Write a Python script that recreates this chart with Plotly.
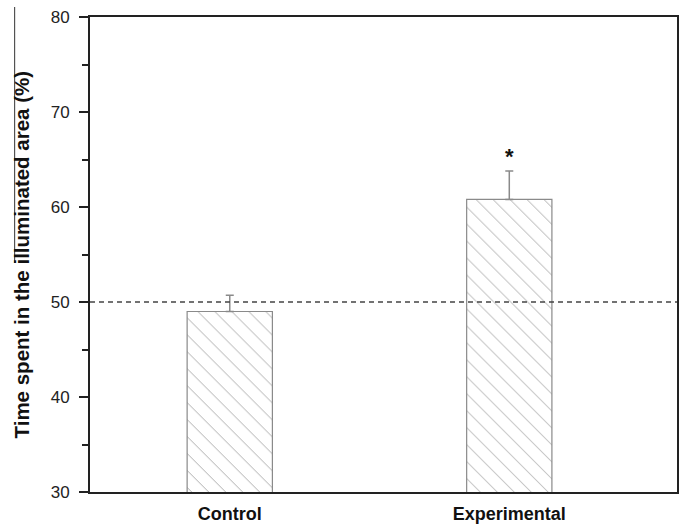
import plotly.graph_objects as go

categories = ["Control", "Experimental"]
means = [49.0, 60.8]
errors_up = [1.7, 3.0]
reference_level = 50
significance = ["", "*"]
sig_y = [None, 65.7]
y_title = "Time spent in the illuminated area (%)"
y_ticks = [30, 40, 50, 60, 70, 80]

FONT = "Liberation Sans, Arial, sans-serif"

fig = go.Figure()
fig.add_trace(go.Bar(
    x=categories, y=means, width=0.305,
    marker=dict(
        color="white",
        line=dict(color="#8a8a8a", width=1.2),
        pattern=dict(shape="\\", size=12, solidity=0.08, fgcolor="#555555", bgcolor="white"),
    ),
    error_y=dict(type="data", symmetric=False, array=errors_up, arrayminus=[0, 0],
                 color="#8a8a8a", thickness=1.5, width=4),
    showlegend=False,
))

fig.add_hline(y=reference_level, line=dict(color="#444444", width=1.5, dash="5px,4px"))

for c, s, yy in zip(categories, significance, sig_y):
    if s:
        fig.add_annotation(x=c, y=yy, text="<b>" + s + "</b>", showarrow=False,
                           font=dict(family=FONT, size=22, color="#111"), yanchor="middle", yshift=-4)

fig.add_annotation(xref="paper", yref="paper", x=(22 - 90) / 586.7, y=0.5,
                   text="<b>" + y_title + "</b>", textangle=-90, showarrow=False,
                   font=dict(family=FONT, size=20.5, color="#111"), xanchor="center", yanchor="middle")

# thin vertical line artifact at the top-left of the original
fig.add_shape(type="line", xref="paper", yref="paper",
              x0=(14.7 - 90) / 586.7, x1=(14.7 - 90) / 586.7,
              y0=(492 - 263) / 475, y1=(492 - 7) / 475,
              line=dict(color="#333", width=1))

fig.update_layout(
    width=681, height=526,
    margin=dict(l=90, r=4, t=17, b=34),
    paper_bgcolor="white", plot_bgcolor="white",
    font=dict(family=FONT, color="#222"),
    bargap=0.5,
)
fig.update_xaxes(
    range=[-0.5, 1.6], showline=True, linecolor="#222", linewidth=2, mirror=True,
    ticks="", tickfont=dict(family=FONT, size=18, color="#111", weight="bold"),
    ticklabelstandoff=4, automargin=False,
    showgrid=False, zeroline=False,
)
fig.update_yaxes(
    range=[30, 80], tickvals=y_ticks, showline=True, linecolor="#222", linewidth=2, mirror=True,
    ticks="outside", ticklen=9, tickwidth=1.5, tickcolor="#222",
    minor=dict(dtick=5, ticks="outside", ticklen=6, tickwidth=1.5, tickcolor="#222", showgrid=False),
    tickfont=dict(family=FONT, size=17, color="#222"),
    ticklabelstandoff=6, automargin=False,
    showgrid=False, zeroline=False,
)

fig.write_html(
    "out.html",
    config={"responsive": False, "displayModeBar": False},
    post_script="document.body.style.margin='0';document.body.style.padding='0';document.body.style.overflow='hidden';",
)
